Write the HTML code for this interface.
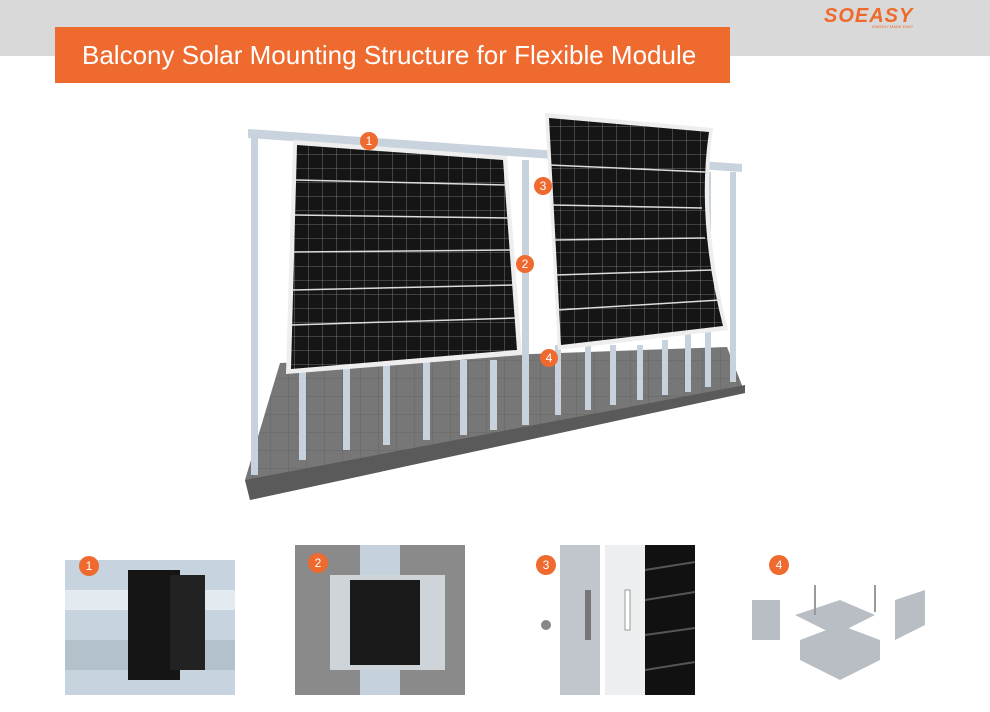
<!DOCTYPE html>
<html><head><meta charset="utf-8"><style>
html,body{margin:0;padding:0;background:#fff;width:990px;height:712px;overflow:hidden;font-family:"Liberation Sans",sans-serif}
.band{position:absolute;left:0;top:0;width:990px;height:56px;background:#d9d9d9}
.title{position:absolute;left:55px;top:27px;width:675px;height:56px;background:#ef6a2e;color:#fff;font-size:26px;line-height:56px;text-indent:27px;white-space:nowrap}
.logo{position:absolute;left:824px;top:5px;color:#ee6a2c;font-weight:bold;font-style:italic;font-size:20px;letter-spacing:1px}
.tag{position:absolute;left:872px;top:24px;color:#ee6a2c;font-size:4px}
</style></head><body>
<div class="band"></div>
<div class="title">Balcony Solar Mounting Structure for Flexible Module</div>
<div class="logo">SOEASY</div><div class="tag">ENERGY MADE EASY</div>
<svg width="990" height="712" style="position:absolute;left:0;top:0">
<defs>
<pattern id="cells" width="14" height="14" patternUnits="userSpaceOnUse"><rect width="14" height="14" fill="#151515"/><path d="M0 0H14M0 0V14" stroke="#888" stroke-width="0.8"/></pattern>
<pattern id="tile" width="18" height="18" patternUnits="userSpaceOnUse"><rect width="18" height="18" fill="#777"/><path d="M0 0H18M0 0V18" stroke="#666" stroke-width="1"/></pattern>
</defs>
<polygon points="280,363 727,347 745,393 250,500 245,480" fill="url(#tile)"/>
<polygon points="245,480 250,500 745,393 745,385" fill="#5a5a5a"/>
<polygon points="248,129 742,164 742,172 248,138" fill="#c9d3dd"/>
<g fill="#c8d2dc">
<rect x="251" y="135" width="7" height="340"/>
<rect x="299" y="360" width="7" height="100"/>
<rect x="343" y="360" width="7" height="90"/>
<rect x="383" y="360" width="7" height="85"/>
<rect x="423" y="360" width="7" height="80"/>
<rect x="460" y="360" width="7" height="75"/>
<rect x="490" y="360" width="7" height="70"/>
<rect x="522" y="160" width="7" height="265"/>
<rect x="555" y="345" width="6" height="70"/>
<rect x="585" y="345" width="6" height="65"/>
<rect x="610" y="345" width="6" height="60"/>
<rect x="637" y="345" width="6" height="55"/>
<rect x="662" y="340" width="6" height="55"/>
<rect x="685" y="172" width="6" height="220"/>
<rect x="705" y="172" width="6" height="215"/>
<rect x="730" y="172" width="6" height="210"/>
</g>
<polygon points="293,140 507,156 522,355 286,374" fill="#eee"/>
<polygon points="297,145 503,160 517,350 291,369" fill="url(#cells)"/>
<g stroke="#ddd" stroke-width="1.5"><line x1="296" y1="180" x2="506" y2="185"/><line x1="295" y1="215" x2="509" y2="218"/><line x1="294" y1="252" x2="511" y2="250"/><line x1="293" y1="290" x2="513" y2="285"/><line x1="292" y1="325" x2="515" y2="318"/></g>
<path d="M545 113 L713 128 Q700 220 728 330 L558 350 Z" fill="#eee"/>
<path d="M549 118 L709 132 Q696 220 723 326 L561 345 Z" fill="url(#cells)"/>
<g stroke="#ddd" stroke-width="1.5"><line x1="550" y1="165" x2="705" y2="172"/><line x1="552" y1="205" x2="702" y2="208"/><line x1="554" y1="240" x2="705" y2="238"/><line x1="556" y1="275" x2="712" y2="270"/><line x1="558" y1="310" x2="720" y2="300"/></g>
<rect x="65" y="560" width="170" height="135" fill="#c7d3de"/>
<rect x="65" y="590" width="170" height="20" fill="#e3eaf0"/>
<rect x="65" y="640" width="170" height="30" fill="#b3c1cd"/>
<rect x="128" y="570" width="52" height="110" fill="#151515"/>
<rect x="170" y="575" width="35" height="95" fill="#222"/>
<rect x="295" y="545" width="170" height="150" fill="#8a8a8a"/>
<rect x="360" y="545" width="40" height="150" fill="#c5d2dd"/>
<rect x="330" y="575" width="115" height="95" fill="#cfd4d9"/>
<rect x="350" y="580" width="70" height="85" fill="#1a1a1a"/>
<rect x="560" y="545" width="40" height="150" fill="#c0c6cc"/>
<rect x="605" y="545" width="40" height="150" fill="#eceef0"/>
<rect x="645" y="545" width="50" height="150" fill="#111"/>
<g stroke="#555" stroke-width="2"><line x1="645" y1="570" x2="695" y2="562"/><line x1="645" y1="600" x2="695" y2="592"/><line x1="645" y1="635" x2="695" y2="628"/><line x1="645" y1="670" x2="695" y2="662"/></g>
<rect x="585" y="590" width="6" height="50" fill="#777"/>
<rect x="625" y="590" width="5" height="40" fill="#fff" stroke="#999"/>
<circle cx="546" cy="625" r="5" fill="#888"/>
<g fill="#b8bec4">
<polygon points="795,615 840,600 875,615 835,635"/>
<polygon points="800,640 840,625 880,640 880,660 840,680 800,660"/>
<rect x="752" y="600" width="28" height="40"/>
<polygon points="895,600 925,590 925,625 895,640"/>
</g>
<g stroke="#999" stroke-width="2"><line x1="815" y1="585" x2="815" y2="615"/><line x1="875" y1="585" x2="875" y2="612"/></g>
<g fill="#ef6a2e">
<circle cx="369" cy="141" r="9"/><circle cx="525" cy="264" r="9"/><circle cx="543" cy="186" r="9"/><circle cx="549" cy="358" r="9"/>
<circle cx="89" cy="566" r="10"/><circle cx="318" cy="563" r="10"/><circle cx="546" cy="565" r="10"/><circle cx="779" cy="565" r="10"/>
</g>
<g fill="#fff" font-family="Liberation Sans" font-size="12" text-anchor="middle">
<text x="369" y="145">1</text><text x="525" y="268">2</text><text x="543" y="190">3</text><text x="549" y="362">4</text>
<text x="89" y="570">1</text><text x="318" y="567">2</text><text x="546" y="569">3</text><text x="779" y="569">4</text>
</g>
</svg>
</body></html>
